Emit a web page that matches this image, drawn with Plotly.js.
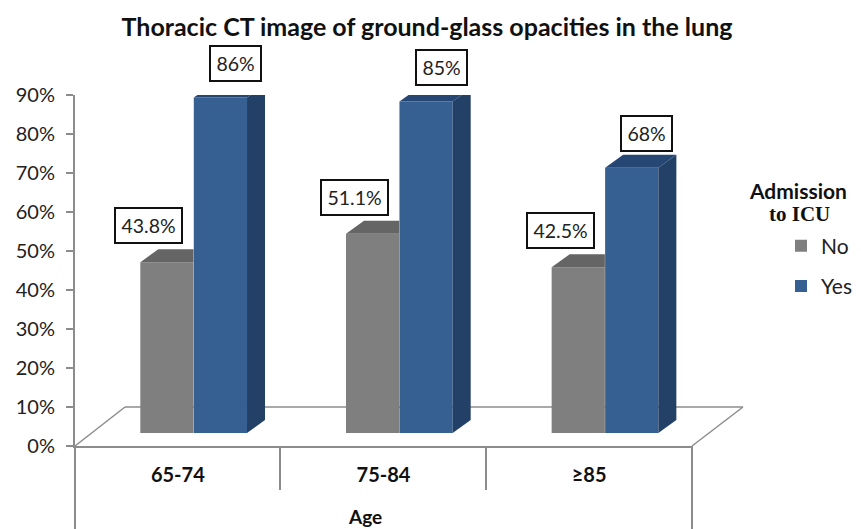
<!DOCTYPE html>
<html><head><meta charset="utf-8">
<script src="https://cdn.plot.ly/plotly-3.0.0.min.js"></script>
<style>html,body{margin:0;padding:0;background:#fff}</style>
</head><body><div id="chart" style="width:861px;height:529px"></div>
<script>
const categories = ["65-74", "75-84", "≥85"];
const noValues = [43.8, 51.1, 42.5];
const yesValues = [86, 85, 68];
const noLabels = ["43.8%", "51.1%", "42.5%"];
const yesLabels = ["86%", "85%", "68%"];
const yTicks = [0,10,20,30,40,50,60,70,80,90];

const FONT = "Lato, 'Open Sans', sans-serif";
const AXIS = "#8c8c8c";
const barW = 0.2588, noOff = -0.053, yesOff = 0.207;
const base = 3.33, depthX = 0.0875, depthY = 3.33;
const colNo = "#7f7f7f", colNoTop = "#656565";
const colYes = "#376092", colYesTop = "#264674", colYesSide = "#234066";

const idx = categories.map((_, i) => i);
function face(xs, ys, color) {
  return {type:"scatter", mode:"none", x:xs, y:ys, fill:"toself", fillcolor:color,
          showlegend:false, hoverinfo:"skip", cliponaxis:false};
}
const traces = [
  {type:"bar", name:"No", legendgroup:"no", x:idx.map(i=>i+noOff), y:noValues, base:base, width:barW, marker:{color:colNo}},
  {type:"bar", name:"Yes", legendgroup:"yes", x:idx.map(i=>i+yesOff), y:yesValues, base:base, width:barW, marker:{color:colYes}}
];
idx.forEach(i => {
  const L = i+noOff-barW/2, R = i+noOff+barW/2, T = base+noValues[i];
  traces.push(face([L,R,R,L+depthX], [T,T,T+depthY,T+depthY], colNoTop));
  const l = i+yesOff-barW/2, r = i+yesOff+barW/2, t = base+yesValues[i];
  traces.push(face([l,r,r+depthX,l+depthX], [t,t,t+depthY,t+depthY], colYesTop));
  traces.push(face([r,r+depthX,r+depthX,r], [base,base+depthY,t+depthY,t], colYesSide));
});

// paper helpers for the frame that sits outside the plot area
const PW = 617, PH = 351, PL = 75, PT = 95;
const px = v => (v-PL)/PW, py = v => 1-(v-PT)/PH;
function line(x0,y0,x1,y1,w){return {type:"line",xref:"paper",yref:"paper",layer:"below",
  x0:px(x0),y0:py(y0),x1:px(x1),y1:py(y1),line:{color:AXIS,width:w||2}};}
const shapes = [
  line(75,446,125,407,1.5), line(125,407,743,407,1.5), line(743,407,692,446,1.5),
  line(75,446,75,529), line(280,446,280,490), line(486,446,486,490), line(692,446,692,529)
];

function lab(text, x, y, xs, ys, w){
  return {text:text, xref:"x", yref:"y", x:x, y:y, xshift:xs, yshift:ys, showarrow:false,
    xanchor:"center", yanchor:"middle", width:w, height:31, bgcolor:"#fff", bordercolor:"#111", borderwidth:2,
    font:{family:FONT,size:19.5,color:"#222"}};
}
const annotations = [];
idx.forEach(i => {
  annotations.push(lab(noLabels[i], i+noOff, noValues[i], -18, 49.5, 63));
  annotations.push(lab(yesLabels[i], i+yesOff, yesValues[i], 15, 47, 47));
});
annotations.push({text:"<b>Age</b>",xref:"paper",yref:"paper",x:px(365),y:py(516),showarrow:false,
  xanchor:"center",yanchor:"middle",font:{family:FONT,size:19,color:"#111"}});
annotations.push({text:"<b>Admission</b>",xref:"paper",yref:"paper",x:px(798),y:py(190),showarrow:false,
  xanchor:"center",yanchor:"middle",font:{family:FONT,size:21,color:"#111"}});
annotations.push({text:"<b>to ICU</b>",xref:"paper",yref:"paper",x:px(799),y:py(214),showarrow:false,
  xanchor:"center",yanchor:"middle",font:{family:"'Liberation Serif',serif",size:21,color:"#111"}});

const layout = {
  width:861, height:529, paper_bgcolor:"#fff", plot_bgcolor:"rgba(0,0,0,0)",
  margin:{l:PL, r:861-PL-PW, t:PT, b:529-PT-PH, autoexpand:false},
  barmode:"overlay",
  title:{text:"<b>Thoracic CT image of ground-glass opacities in the lung</b>", x:427/861, xanchor:"center",
         y:1-27/529, yanchor:"middle", font:{family:FONT,size:25,color:"#111"}},
  xaxis:{range:[-0.5,2.5], tickmode:"array", tickvals:idx, ticktext:categories.map(c=>"<b>"+c+"</b>"),
         ticks:"", showgrid:false, zeroline:false, showline:true, linecolor:AXIS, linewidth:2,
         ticklabelstandoff:10, tickfont:{family:FONT,size:20,color:"#111"}},
  yaxis:{range:[0,90], tickmode:"array", tickvals:yTicks, ticktext:yTicks.map(v=>v+"%"),
         ticks:"outside", ticklen:7, tickwidth:2, tickcolor:AXIS, showgrid:false, zeroline:false,
         showline:true, linecolor:AXIS, linewidth:2, ticklabelstandoff:7,
         tickfont:{family:FONT,size:20,color:"#222"}},
  showlegend:true,
  legend:{x:px(781), xanchor:"left", y:py(225.5), yanchor:"top", traceorder:"grouped", tracegroupgap:10,
          entrywidth:30, entrywidthmode:"pixels",
          font:{family:FONT,size:21,color:"#222"}, bgcolor:"rgba(0,0,0,0)"},
  shapes:shapes, annotations:annotations
};
Plotly.newPlot("chart", traces, layout, {displayModeBar:false});
</script></body></html>
